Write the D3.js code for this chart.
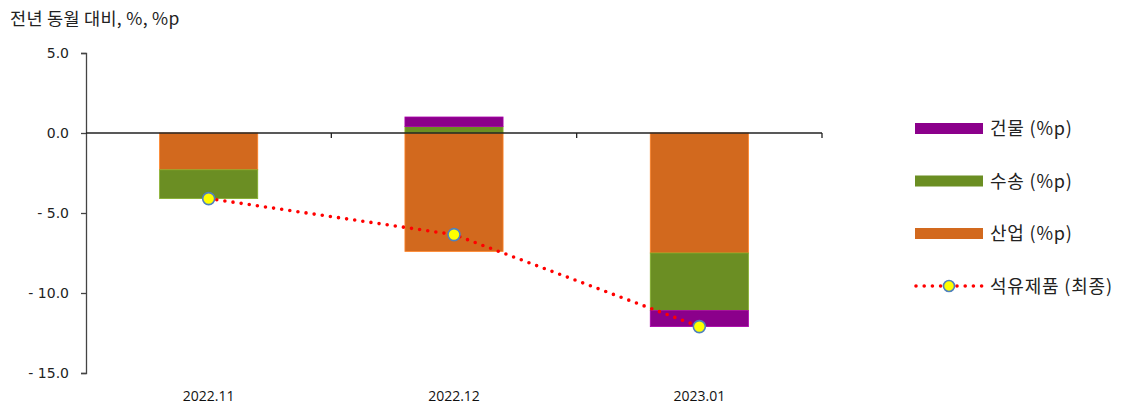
<!DOCTYPE html>
<html><head><meta charset="utf-8">
<script src="https://cdn.jsdelivr.net/npm/d3@7"></script>
<style>body{margin:0;background:#fff;} svg{display:block;}</style>
</head><body><svg id="c" width="1127" height="404"></svg>
<script>
const categories = ["2022.11", "2022.12", "2023.01"];
const industry = [-2.3, -7.4, -7.5];   // 산업 (%p)
const transport = [-1.8, 0.4, -3.6];   // 수송 (%p)
const building = [0.0, 0.6, -1.0];     // 건물 (%p)
const petroleum = [-4.1, -6.35, -12.1]; // 석유제품 (최종)
const yTicks = [5, 0, -5, -10, -15];
const seriesNames = ["건물 (%p)", "수송 (%p)", "산업 (%p)", "석유제품 (최종)"];
const colors = {industry: "#D2691E", transport: "#6B8E23", building: "#8B008B"};

const svg = d3.select("#c");
const x = d3.scaleBand().domain(categories).range([86, 822]).paddingInner(0.6).paddingOuter(0.3);
const xb = d3.scaleBand().domain(categories).range([86, 822]);
const y = d3.scaleLinear().domain([-15, 5]).range([373, 53]);

const kfont = "'Noto Sans CJK KR', 'Noto Sans', sans-serif";

// title
svg.append("text").attr("x", 10).attr("y", 25).attr("font-family", kfont).attr("font-size", 17.5)
  .attr("letter-spacing", 0.3).attr("fill", "#222").text("전년 동월 대비, %, %p");

// y axis
const yAxis = d3.axisLeft(y).tickValues(yTicks).tickSize(5).tickPadding(12)
  .tickFormat(d => d < 0 ? "- " + d3.format(".1f")(-d) : d3.format(".1f")(d));
const ga = svg.append("g").attr("transform", "translate(86,0)").call(yAxis);
ga.select(".domain").attr("stroke", "#444").attr("stroke-width", 1.3);
ga.selectAll(".tick line").attr("stroke", "#444").attr("stroke-width", 1.3);
ga.selectAll(".tick text").attr("font-family", "'DejaVu Sans', sans-serif").attr("font-size", 14).attr("fill", "#222");

// stacked bars
categories.forEach((c, i) => {
  let pos = 0, neg = 0;
  [["industry", industry[i]], ["transport", transport[i]], ["building", building[i]]].forEach(([k, v]) => {
    if (v === 0) return;
    let y0, y1;
    if (v >= 0) { y0 = pos; y1 = pos + v; pos = y1; } else { y0 = neg; y1 = neg + v; neg = y1; }
    svg.append("rect")
      .attr("x", x(c)).attr("width", x.bandwidth())
      .attr("y", y(Math.max(y0, y1))).attr("height", Math.abs(y(y0) - y(y1)))
      .attr("fill", colors[k]).attr("stroke", d3.color(colors[k]).brighter(0.6)).attr("stroke-width", 0.8);
  });
});

// x axis (zero line)
svg.append("line").attr("x1", 86).attr("x2", 822).attr("y1", y(0)).attr("y2", y(0)).attr("stroke", "#222").attr("stroke-width", 1.5);
categories.forEach(c => {
  const xr = xb(c) + xb.bandwidth();
  svg.append("line").attr("x1", xr).attr("x2", xr).attr("y1", y(0)).attr("y2", y(0) + 5).attr("stroke", "#222").attr("stroke-width", 1.3);
  svg.append("text").attr("x", xb(c) + xb.bandwidth() / 2).attr("y", 401).attr("text-anchor", "middle")
    .attr("font-family", "'Open Sans', sans-serif").attr("font-size", 14).attr("fill", "#111").text(c);
});

// petroleum line
const cx = c => xb(c) + xb.bandwidth() / 2;
svg.append("path").datum(petroleum)
  .attr("d", d3.line().x((d, i) => cx(categories[i])).y(d => y(d)))
  .attr("fill", "none").attr("stroke", "#FF0000").attr("stroke-width", 3.6)
  .attr("stroke-linecap", "round").attr("stroke-dasharray", "0 8.2");
petroleum.forEach((v, i) => {
  svg.append("circle").attr("cx", cx(categories[i])).attr("cy", y(v)).attr("r", 6)
    .attr("fill", "#FFFF00").attr("stroke", "#4F81BD").attr("stroke-width", 1.6);
});

// legend
const ly = [128.5, 181, 233.5, 286];
const lc = [colors.building, colors.transport, colors.industry];
seriesNames.forEach((n, i) => {
  if (i < 3) {
    svg.append("rect").attr("x", 915).attr("y", ly[i] - 5.5).attr("width", 68).attr("height", 11).attr("fill", lc[i]);
  } else {
    svg.append("line").attr("x1", 916).attr("x2", 982).attr("y1", ly[i]).attr("y2", ly[i])
      .attr("stroke", "#FF0000").attr("stroke-width", 3.6).attr("stroke-linecap", "round").attr("stroke-dasharray", "0 8.2");
    svg.append("circle").attr("cx", 949).attr("cy", ly[i]).attr("r", 5.5)
      .attr("fill", "#FFFF00").attr("stroke", "#4F81BD").attr("stroke-width", 1.6);
  }
  svg.append("text").attr("x", 990).attr("y", ly[i] + 6.5).attr("font-family", kfont).attr("font-size", 18)
    .attr("letter-spacing", 0.8).attr("fill", "#222").text(n);
});
</script></body></html>
